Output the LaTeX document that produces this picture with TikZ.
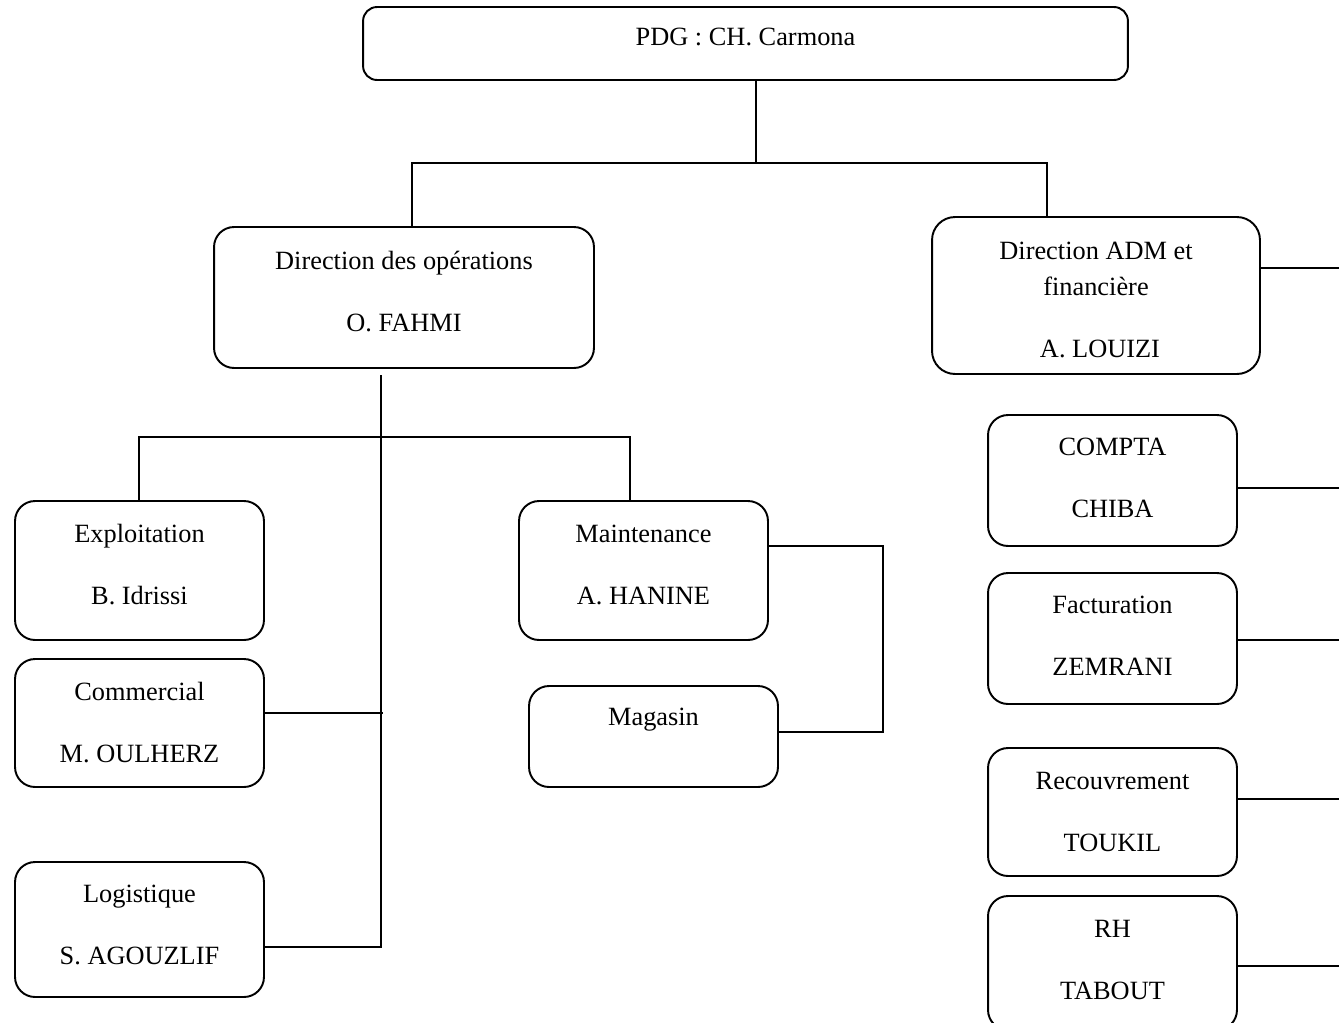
\documentclass[tikz,border=0pt]{standalone}
\usepackage{fontspec}
\setmainfont{Liberation Serif}

\tikzstyle{box} = [rectangle, rounded corners=0.4cm, draw=black, line width=1.1pt, align=center, inner sep=0pt, font=\fontsize{15}{20.5}\selectfont]
\tikzstyle{sbox} = [box, minimum width=4.98cm, minimum height=2.7cm]

\begin{document}
\begin{tikzpicture}[x=0.02cm, y=-0.02cm, line width=1.1pt]
        \useasboundingbox (0,0) rectangle (1339,1022);

        % direction generale
        \node (pdg) [box, minimum width=15.3cm, minimum height=1.46cm, rounded corners=0.28cm, text depth=0.26cm] at (745.5,43.5) {PDG : CH. Carmona};
        \node (dirop) [box, minimum width=7.6cm, minimum height=2.82cm, text depth=0.24cm] at (404,297.5) {Direction des opérations\\[0.52cm]O. FAHMI};
        \node (diradm) [box, minimum width=6.56cm, minimum height=3.14cm, rounded corners=0.46cm] at (1096,295.5) {\rule{0pt}{0.52cm}Direction ADM et\\financière\\[0.52cm]\hspace*{0.16cm}A. LOUIZI};

        % operations
        \node (expl) [sbox, minimum height=2.78cm, text depth=0.24cm] at (139.5,570.5) {Exploitation\\[0.52cm]B. Idrissi};
        \node (comm) [sbox, minimum height=2.56cm] at (139.5,723) {Commercial\\[0.52cm]M. OULHERZ};
        \node (logi) [sbox, text depth=0.2cm] at (139.5,929.5) {Logistique\\[0.52cm]S. AGOUZLIF};
        \node (maint) [sbox, minimum height=2.78cm, text depth=0.24cm] at (643.5,570.5) {Maintenance\\[0.52cm]A. HANINE};
        \node (mag) [sbox, minimum height=2.02cm, text depth=0.78cm] at (653.5,736.5) {Magasin};

        % adm et financiere
        \node (compta) [sbox, minimum height=2.62cm, text depth=0.12cm] at (1112.5,480.5) {COMPTA\\[0.52cm]CHIBA};
        \node (fact) [sbox, minimum height=2.62cm, text depth=0.12cm] at (1112.5,638.5) {Facturation\\[0.52cm]ZEMRANI};
        \node (recouv) [sbox, minimum height=2.56cm] at (1112.5,812) {Recouvrement\\[0.52cm]TOUKIL};
        \node (rh) [sbox, minimum height=2.68cm, text depth=0.12cm] at (1112.5,963) {RH\\[0.52cm]TABOUT};

        \coordinate (top) at (756,163);
        \coordinate (topl) at (412,163);
        \coordinate (topr) at (1047,163);
        \coordinate (spine) at (381,375);
        \coordinate (c1) at (383,713);
        \coordinate (c2) at (381,947);
        \coordinate (bl) at (139,437);
        \coordinate (br) at (630,437);
        \coordinate (m1) at (883,546);
        \coordinate (m2) at (883,732);
        \coordinate (edge) at (1339,0);

        \draw (pdg.south -| top) -- (top);
        \draw (topl |- dirop.north) -- (topl) -- (topr) -- (topr |- diradm.north);

        \draw (spine) -- (c2) -- (logi.east |- c2);
        \draw (comm.east |- c1) -- (c1);
        \draw (expl.north -| bl) -- (bl) -- (br) -- (br |- maint.north);
        \draw (maint.east |- m1) -- (m1) -- (m2) -- (mag.east |- m2);

        \foreach \n/\y in {diradm/268, compta/488, fact/640, recouv/799, rh/966}
            \draw (\n.east |- 0,\y) -- (edge |- 0,\y);
    \end{tikzpicture}
\end{document}
